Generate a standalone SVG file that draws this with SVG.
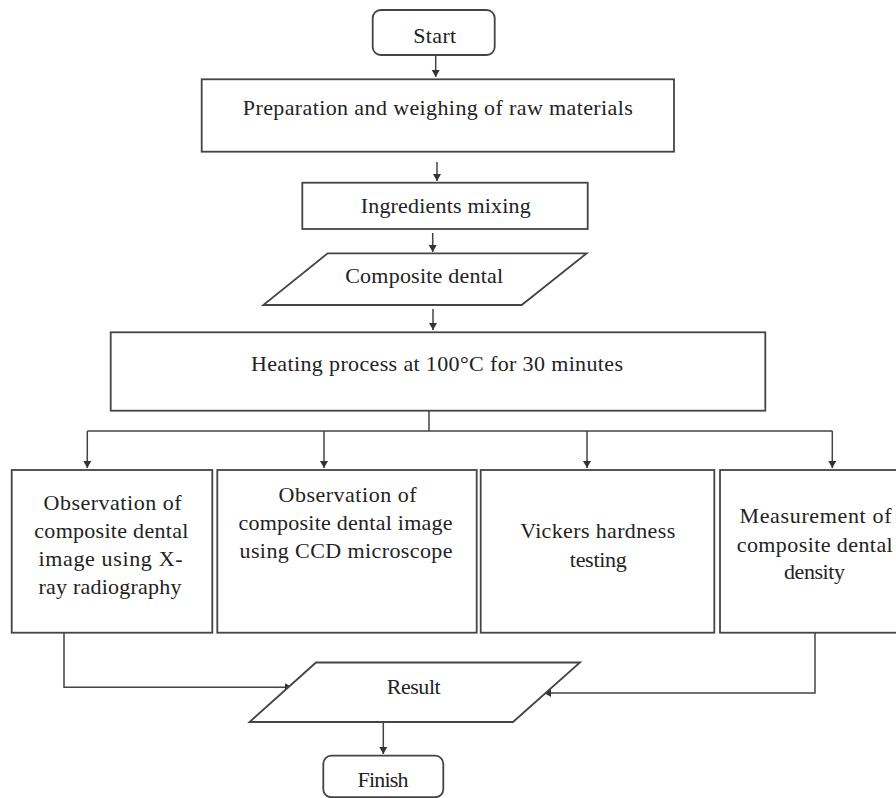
<svg xmlns="http://www.w3.org/2000/svg" width="896" height="798" viewBox="0 0 896 798">
<style>
.box{fill:#fff;stroke:#444;stroke-width:1.8}
.con{fill:none;stroke:#444;stroke-width:1.5}
text{font-family:"Liberation Serif","Times New Roman",serif;font-size:22px;fill:#222;text-anchor:middle}
</style>
<defs>
<marker id="ah" markerUnits="userSpaceOnUse" markerWidth="10" markerHeight="10" refX="7" refY="4" orient="auto">
<path d="M0,0 L7,4 L0,8 Z" fill="#333"/>
</marker>
</defs>
<rect width="896" height="798" fill="#fff"/>
<g id="connectors">
<path class="con" d="M435.7 55 V77" marker-end="url(#ah)"/>
<path class="con" d="M437 162 V181" marker-end="url(#ah)"/>
<path class="con" d="M432.7 233 V252" marker-end="url(#ah)"/>
<path class="con" d="M433 309 V330" marker-end="url(#ah)"/>
<path class="con" d="M429 410.7 V431 M87.3 431 H832.3"/>
<path class="con" d="M87.3 431 V468" marker-end="url(#ah)"/>
<path class="con" d="M324 431 V468" marker-end="url(#ah)"/>
<path class="con" d="M587 431 V468" marker-end="url(#ah)"/>
<path class="con" d="M832.3 431 V468" marker-end="url(#ah)"/>
<path class="con" d="M64 632.7 V687.3 H292" marker-end="url(#ah)"/>
<path class="con" d="M815 632.7 V693 H544" marker-end="url(#ah)"/>
<path class="con" d="M383.3 722 V754" marker-end="url(#ah)"/>
</g>
<g id="start">
<rect class="box" x="372.7" y="10" width="122" height="45" rx="8"/>
<text x="434.7" y="42.7" textLength="43">Start</text>
</g>
<g id="prep">
<rect class="box" x="201.7" y="79.3" width="472.3" height="72.4"/>
<text x="437.8" y="115" textLength="390">Preparation and weighing of raw materials</text>
</g>
<g id="mixing">
<rect class="box" x="302.3" y="182.7" width="285.4" height="46.3"/>
<text x="445.7" y="213" textLength="170">Ingredients mixing</text>
</g>
<g id="composite">
<polygon class="box" points="327.7,253.3 586.7,253.3 521.7,305 263.3,305"/>
<text x="424.2" y="283" textLength="158">Composite dental</text>
</g>
<g id="heating">
<rect class="box" x="110.7" y="332.3" width="654.6" height="78.4"/>
<text x="437" y="371" textLength="372">Heating process at 100°C for 30 minutes</text>
</g>
<g id="xray">
<rect class="box" x="11.7" y="470" width="200.6" height="162.7"/>
<text x="112.5" y="510" textLength="138">Observation of</text>
<text x="111.3" y="537.7" textLength="154">composite dental</text>
<text x="110.5" y="565.7" textLength="144">image using X-</text>
<text x="110" y="593.5" textLength="143">ray radiography</text>
</g>
<g id="ccd">
<rect class="box" x="217.3" y="470" width="259.4" height="162.7"/>
<text x="347.5" y="501.7" textLength="138">Observation of</text>
<text x="345.5" y="530" textLength="214">composite dental image</text>
<text x="346" y="558.3" textLength="213">using CCD microscope</text>
</g>
<g id="vickers">
<rect class="box" x="480.7" y="470" width="233.6" height="162.7"/>
<text x="597.7" y="538.3" textLength="155">Vickers hardness</text>
<text x="598.3" y="566.7" textLength="57">testing</text>
</g>
<g id="density">
<rect class="box" x="720" y="470" width="190" height="162.7"/>
<text x="815.5" y="523.3" textLength="152">Measurement of</text>
<text x="814.7" y="551.7" textLength="156">composite dental</text>
<text x="814.5" y="579.3" textLength="61">density</text>
</g>
<g id="result">
<polygon class="box" points="316,662.5 580,662.5 513,722 249.5,722"/>
<text x="413.7" y="694" textLength="54">Result</text>
</g>
<g id="finish">
<rect class="box" x="323.3" y="755.7" width="120" height="41.5" rx="8"/>
<text x="383" y="786.7" textLength="51">Finish</text>
</g>
</svg>
